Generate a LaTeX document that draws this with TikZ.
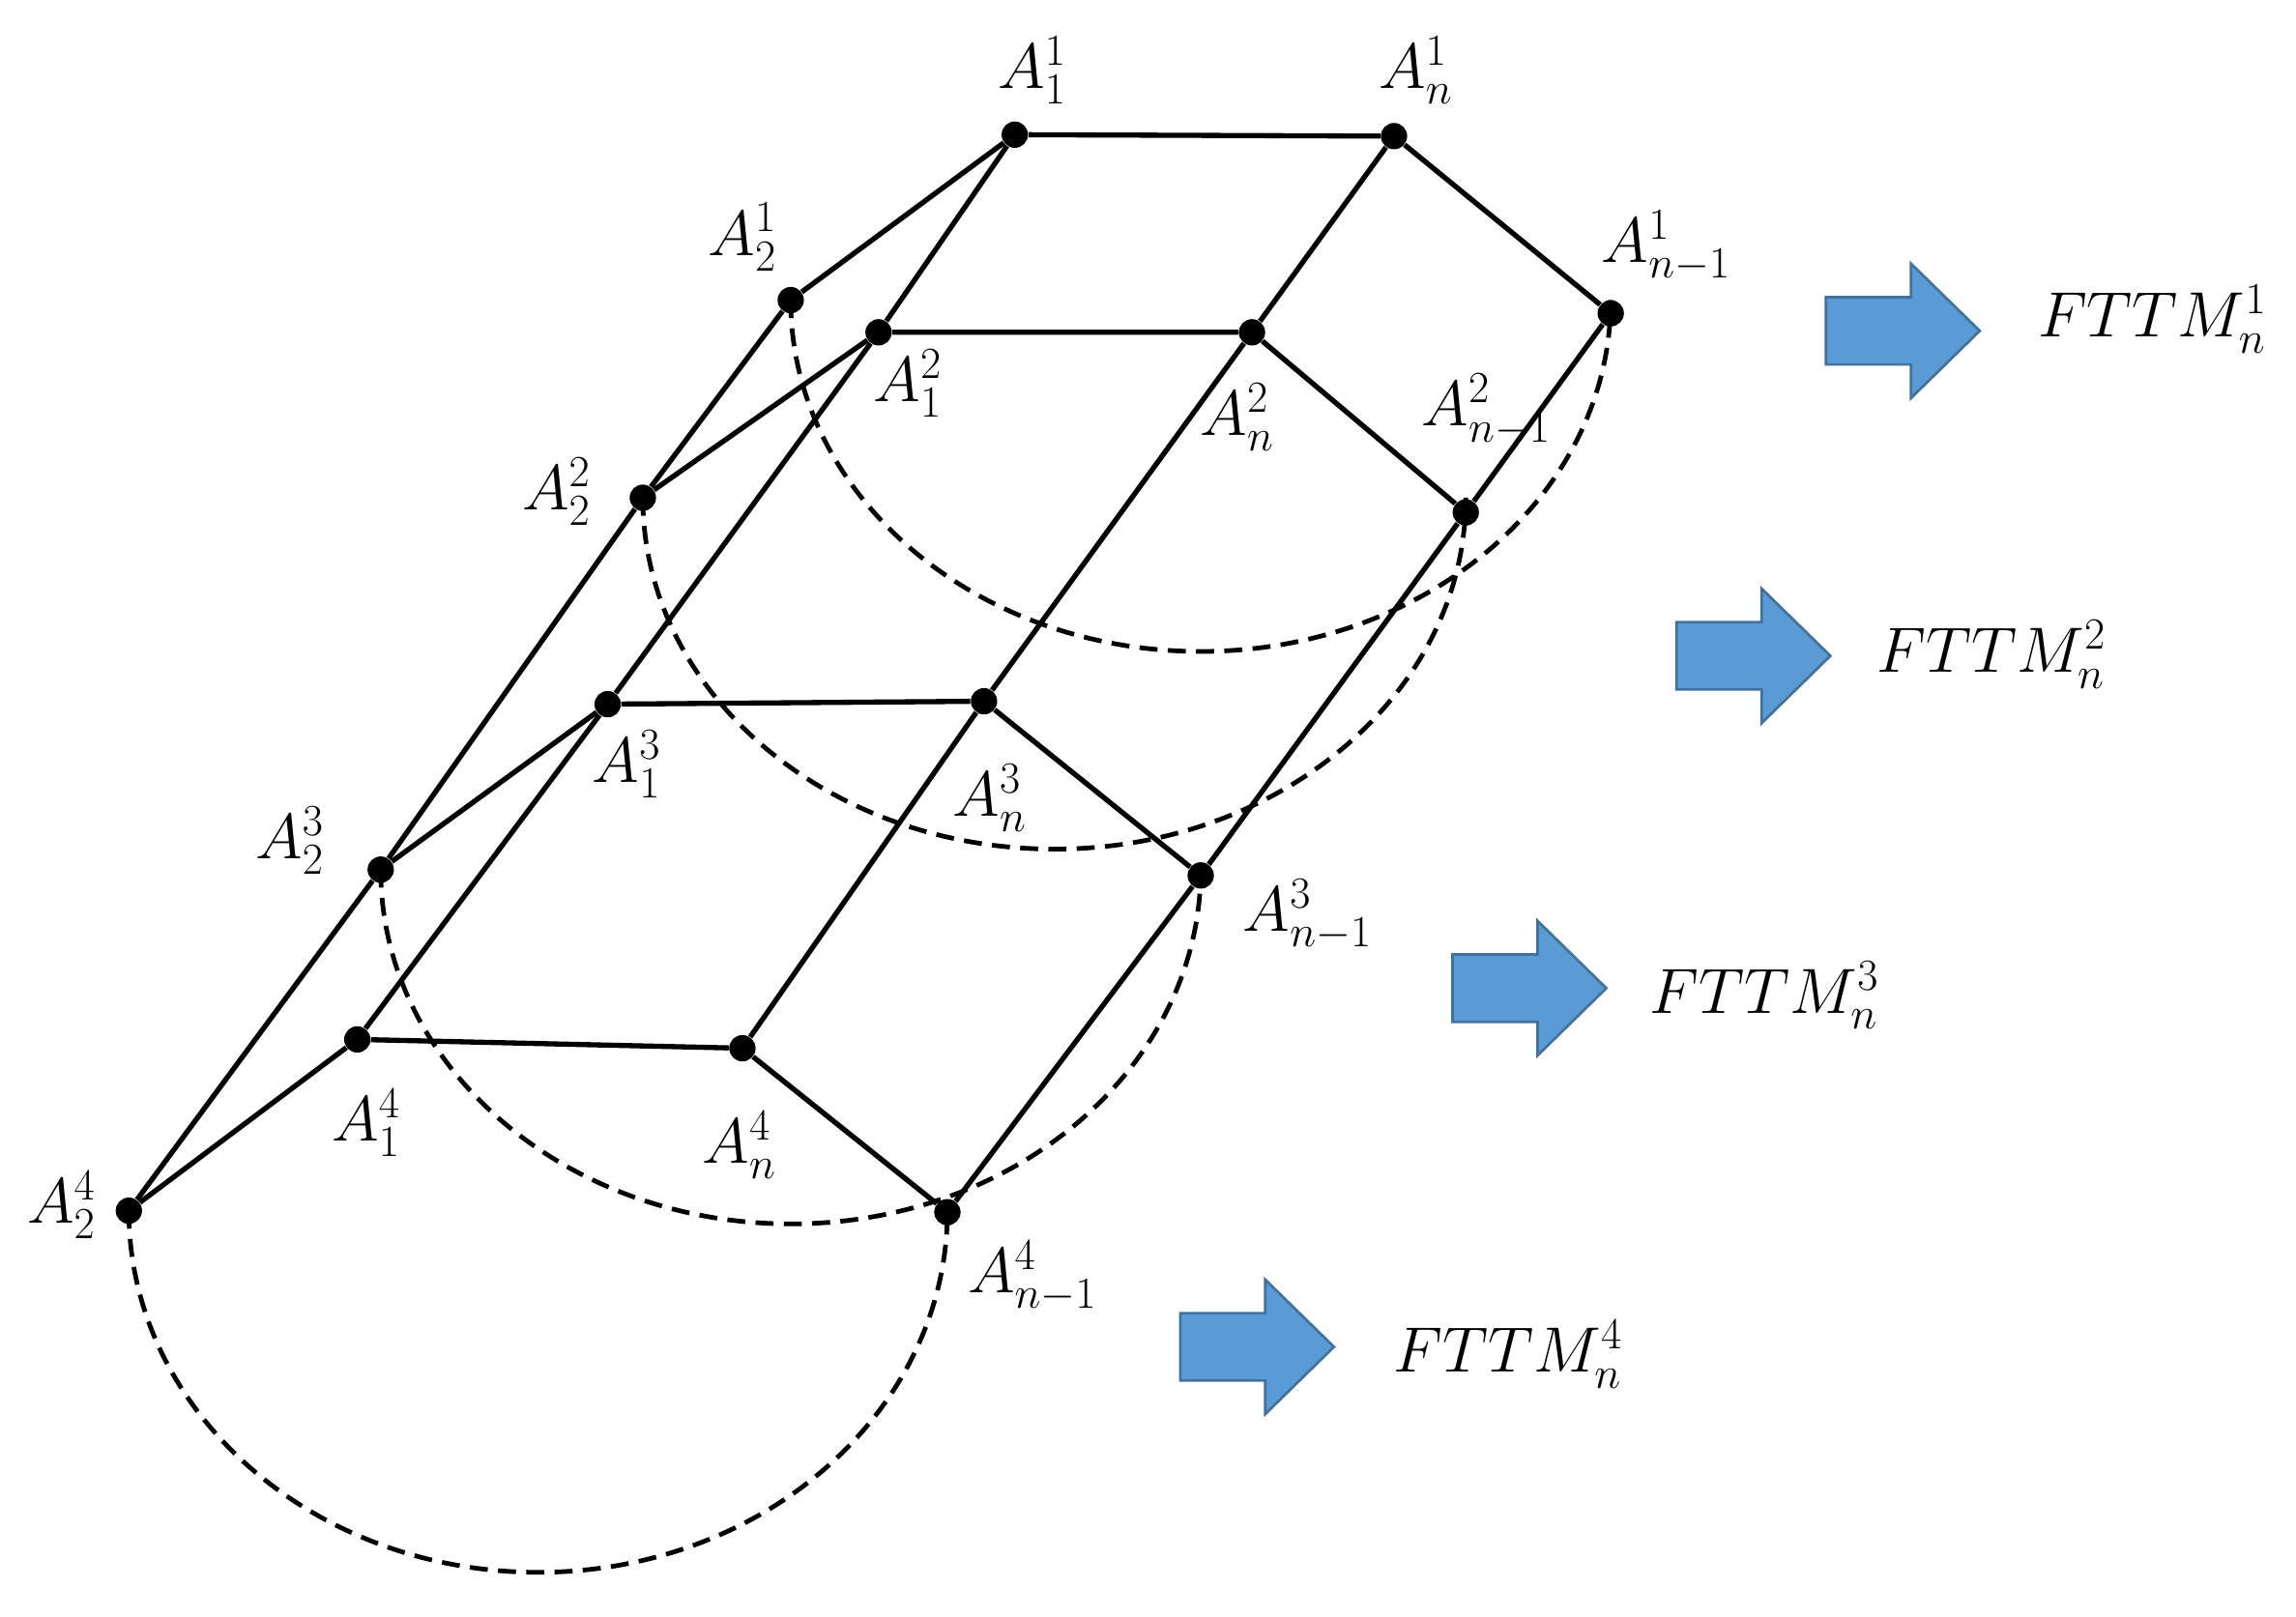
\documentclass[tikz,border=0pt]{standalone}
\begin{document}
\begin{tikzpicture}[x=0.02cm,y=-0.02cm,
  pt/.style={circle,fill=black,inner sep=0pt,minimum size=0.36cm},
  lab/.style={inner sep=0pt,font=\fontsize{24}{28}\selectfont},
  ln/.style={line width=2pt},
  dsh/.style={line width=1.8pt,dash pattern=on 7pt off 4pt},
  barrow/.style={fill={rgb,255:red,91;green,155;blue,213},draw={rgb,255:red,65;green,113;blue,156},line width=1pt,line join=miter},
  ft/.style={inner sep=0pt,font=\fontsize{27}{30}\selectfont}]
\useasboundingbox (0,0) rectangle (1568,1104);
% points
\node[pt] (a21) at (540,205) {}; \node[pt] (a11) at (693,92) {}; \node[pt] (an1) at (952,93) {}; \node[pt] (am1) at (1100,214) {};
\node[pt] (a22) at (439,340) {}; \node[pt] (a12) at (600,227) {}; \node[pt] (an2) at (855,227) {}; \node[pt] (am2) at (1001,350) {};
\node[pt] (a23) at (260,594) {}; \node[pt] (a13) at (415,481) {}; \node[pt] (an3) at (672,479) {}; \node[pt] (am3) at (820,598) {};
\node[pt] (a24) at (88,827) {}; \node[pt] (a14) at (244,710) {}; \node[pt] (an4) at (507,716) {}; \node[pt] (am4) at (647,828) {};
% dashed half ellipses
\draw[dsh] (a21.center) arc[start angle=180,end angle=0,x radius=280,y radius=240];
\draw[dsh] (a22.center) arc[start angle=180,end angle=0,x radius=281,y radius=240];
\draw[dsh] (a23.center) arc[start angle=180,end angle=0,x radius=280,y radius=242];
\draw[dsh] (a24.center) arc[start angle=180,end angle=0,x radius=279.5,y radius=247];
% layers
\foreach \k in {1,2,3,4}{
  \draw[ln] (a2\k) -- (a1\k) -- (an\k) -- (am\k);
}
% longitudinal
\draw[ln] (a21) -- (a22) -- (a23) -- (a24);
\draw[ln] (a11) -- (a12) -- (a13) -- (a14);
\draw[ln] (an1) -- (an2) -- (an3) -- (an4);
\draw[ln] (am1) -- (am2) -- (am3) -- (am4);
% labels
\node[lab] (l11) at (705,48) {$A_1^1$};
\node[lab] (ln1) at (967,48) {$A_n^1$};
\node[lab] (l21) at (507,162) {$A_2^1$};
\node[lab] (lm1) at (1138,168) {$A_{n-1}^1$};
\node[lab] (l12) at (620,262) {$A_1^2$};
\node[lab] (ln2) at (845,285) {$A_n^2$};
\node[lab] (lm2) at (1015,280) {$A_{n-1}^2$};
\node[lab] (l22) at (380,336) {$A_2^2$};
\node[lab] (l13) at (428,522) {$A_1^3$};
\node[lab] (ln3) at (676,545) {$A_n^3$};
\node[lab] (l23) at (198,574) {$A_2^3$};
\node[lab] (lm3) at (893,625) {$A_{n-1}^3$};
\node[lab] (l14) at (250,767) {$A_1^4$};
\node[lab] (ln4) at (505,782) {$A_n^4$};
\node[lab] (l24) at (42,823) {$A_2^4$};
\node[lab] (lm4) at (705,872) {$A_{n-1}^4$};
% arrows
\foreach \n/\x/\y in {b1/1247/226, b2/1145/448, b3/992/675, b4/806/920}{
  \coordinate (\n) at (\x,\y);
  \draw[barrow] (\n) ++(0,-23) -- ++(58,0) -- ++(0,-23) -- ++(47,46) -- ++(-47,46) -- ++(0,-23) -- ++(-58,0) -- cycle;
}
\node[ft] (f1) at (1470,218) {$FTTM_n^1$};
\node[ft] (f2) at (1360,447) {$FTTM_n^2$};
\node[ft] (f3) at (1205,680) {$FTTM_n^3$};
\node[ft] (f4) at (1030,925) {$FTTM_n^4$};
\end{tikzpicture}
\end{document}
